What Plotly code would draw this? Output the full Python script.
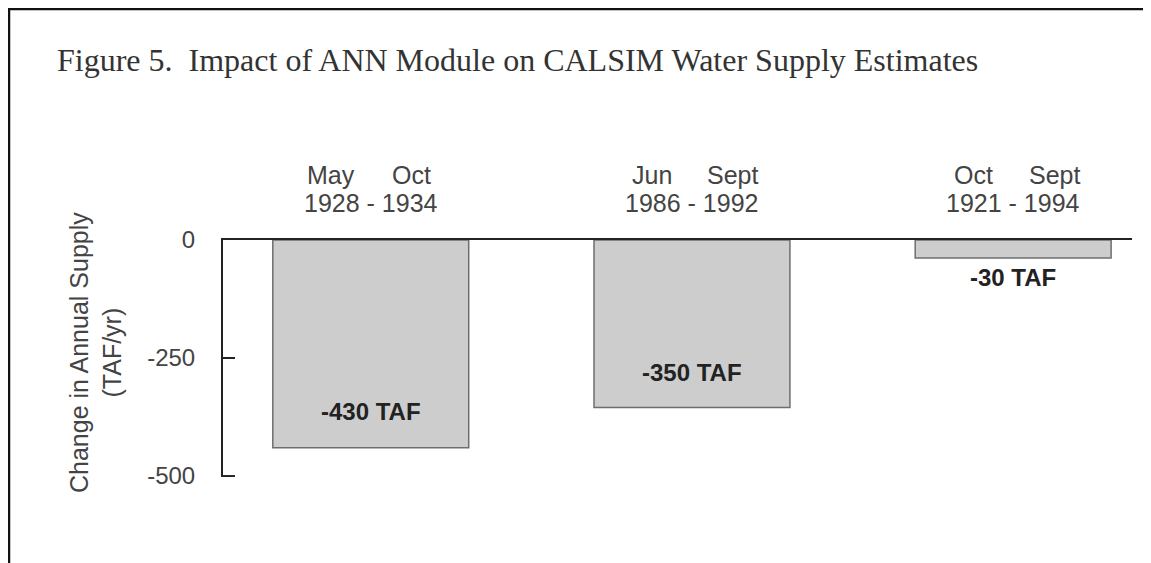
import plotly.graph_objects as go

# ---- data ----
periods = ["May 1928 - Oct 1934", "Jun 1986 - Sept 1992", "Oct 1921 - Sept 1994"]
start_months = ["May", "Jun", "Oct"]
end_months = ["Oct", "Sept", "Sept"]
year_ranges = ["1928 - 1934", "1986 - 1992", "1921 - 1994"]
supply_change = [-440, -355, -38]          # bar heights as drawn (TAF/yr)
value_labels = ["-430 TAF", "-350 TAF", "-30 TAF"]
y_ticks = [0, -250, -500]
y_tick_text = ["0", "-250", "-500"]

W, H = 1151, 563
OFF = 8  # page body margin
# plot area in screen pixels
X0, X1, Y0, Y1 = 223, 1132, 240, 477
L, R, T, B = X0 - OFF, W - (X1 - OFF), Y0 - OFF, H - (Y1 - OFF)
pw, ph = W - L - R, H - T - B

def px_x(p):
    return (p - OFF - L) / pw

def px_y(p):
    return (H - B - (p - OFF)) / ph

xs = list(range(len(periods)))

fig = go.Figure()
fig.add_trace(go.Bar(
    x=xs, y=supply_change, width=0.61,
    marker=dict(color="#cdcdcd", line=dict(color="#6e6e6e", width=1.5)),
    hoverinfo="skip", showlegend=False,
))

sans = "Liberation Sans, Arial, sans-serif"
ann = []
label_shift = [36, 35, -20]
for i in xs:
    ann.append(dict(x=i, y=supply_change[i], xref="x", yref="y", text="<b>%s</b>" % value_labels[i],
                    showarrow=False, yshift=label_shift[i], yanchor="middle",
                    font=dict(family=sans, size=24, color="#222")))
    ann.append(dict(x=i, y=px_y(203), xref="x", yref="paper", text=year_ranges[i], showarrow=False,
                    font=dict(family=sans, size=25, color="#444"), yanchor="middle"))
    ann.append(dict(x=i, y=px_y(175), xref="x", yref="paper", text=start_months[i], showarrow=False,
                    xshift=-40, font=dict(family=sans, size=25, color="#444"), yanchor="middle"))
    ann.append(dict(x=i, y=px_y(175), xref="x", yref="paper", text=end_months[i], showarrow=False,
                    xshift=41, font=dict(family=sans, size=25, color="#444"), yanchor="middle"))

ann.append(dict(x=px_x(95), y=px_y(353), xref="paper", yref="paper",
                text="Change in Annual Supply<br>(TAF/yr)", textangle=-90, showarrow=False,
                font=dict(family=sans, size=25, color="#444"), xanchor="center", yanchor="middle"))

shapes = [
    dict(type="line", xref="paper", yref="paper", x0=px_x(8), x1=px_x(W + 20), y0=px_y(9), y1=px_y(9),
         line=dict(color="#111", width=2.5)),
    dict(type="line", xref="paper", yref="paper", x0=px_x(9), x1=px_x(9), y0=px_y(8), y1=px_y(H + 20),
         line=dict(color="#111", width=2.5)),
    # bottom tick of the y axis (bracket end)
    dict(type="line", xref="paper", yref="y", x0=0, x1=12 / pw, y0=y_ticks[-1], y1=y_ticks[-1],
         line=dict(color="#222", width=2)),
]

fig.update_layout(
    width=W, height=H,
    margin=dict(l=L, r=R, t=T, b=B, autoexpand=False),
    paper_bgcolor="white", plot_bgcolor="white",
    title=dict(text="Figure 5.  Impact of ANN Module on CALSIM Water Supply Estimates",
               x=(57 - OFF) / W, xanchor="left", xref="container",
               y=1 - (60 - OFF) / H, yanchor="middle", yref="container",
               font=dict(family="Liberation Serif, Times New Roman, serif", size=32, color="#333")),
    xaxis=dict(range=[-0.46, 2.37], side="top", showline=True, linecolor="#222", linewidth=2,
               showticklabels=False, ticks="", showgrid=False, zeroline=False, fixedrange=True),
    yaxis=dict(range=[-502, 0], tickvals=y_ticks, ticktext=y_tick_text, ticks="inside", ticklen=12,
               tickwidth=2, tickcolor="#222", showline=True, linecolor="#222", linewidth=2,
               showgrid=False, zeroline=False, ticklabelstandoff=21,
               tickfont=dict(family=sans, size=24, color="#444")),
    annotations=ann, shapes=shapes, bargap=0.3,
)

fig.write_html("out.html")
